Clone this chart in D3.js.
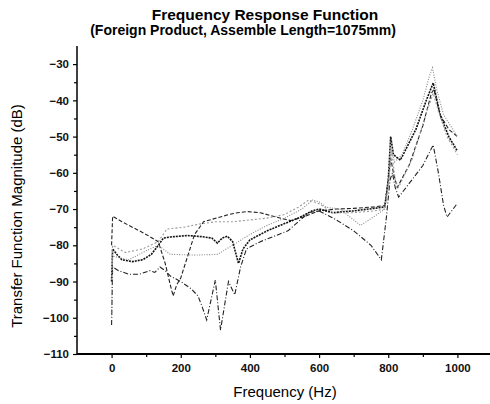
<!DOCTYPE html>
<html>
<head>
<meta charset="utf-8">
<script src="https://cdn.jsdelivr.net/npm/d3@7"></script>
<style>
  body { margin: 0; background: #fff; }
  svg { display: block; font-family: "Liberation Sans", Arial, sans-serif; }
</style>
</head>
<body>
<div id="chart"></div>
<script>
// values: [frequency Hz, magnitude dB]
const curveB = [[0,-80],[3,-72],[30,-73.5],[60,-75],[100,-77],[135,-79],[155,-85],[170,-91],[178,-94],[188,-91],
  [200,-89],[220,-83],[240,-77],[266,-73.5],[306,-72.4],[340,-71.5],[364,-71],[394,-70.7],[430,-71],[460,-71.8],
  [518,-73.2],[560,-72],[600,-70.5],[650,-70],[700,-69.8],[760,-69.4],[790,-69],[800,-62],[807,-56],[815,-60],
  [826,-64],[860,-58],[900,-47],[925,-38],[932,-37],[950,-44],[975,-48],[1000,-50]];

const curveC = [[0,-90],[3,-81],[15,-82.5],[30,-84],[60,-84.5],[90,-84],[115,-82.5],[135,-80],[150,-78],[170,-77.7],
  [220,-77.3],[260,-77.6],[290,-78],[306,-79.4],[320,-78],[335,-77.5],[350,-79],[367,-85],[380,-81],[400,-78.5],
  [450,-76],[500,-74],[540,-72.5],[580,-70.5],[600,-70],[640,-71],[700,-70.5],[760,-69.8],[790,-69.4],[800,-62],
  [807,-50],[815,-55],[835,-56.5],[880,-48],[910,-40],[930,-35.2],[950,-44],[975,-50],[1000,-54]];

const curveD = [[0,-102],[3,-86],[20,-87],[50,-88],[80,-88],[110,-87],[125,-87.5],[140,-86],[155,-87],[170,-88.5],
  [200,-90],[230,-92],[250,-94],[262,-97],[275,-100.6],[300,-89.6],[315,-103.4],[338,-90],[356,-93.7],[373,-86],
  [390,-81],[430,-79],[470,-77.5],[510,-76],[540,-73.5],[570,-71],[600,-70.5],[650,-73],[700,-76],[750,-80],
  [780,-84],[795,-72],[805,-62],[812,-60],[820,-64],[830,-66.7],[860,-63],[900,-58],[930,-52.3],[945,-60],
  [960,-69],[970,-72.2],[1000,-68.4]];

const curveE = [[0,-100],[3,-83],[50,-84],[100,-81.5],[135,-80],[170,-82.5],[240,-82.7],[306,-82.5],[350,-80],
  [400,-77],[450,-74.5],[500,-72.5],[550,-70],[581,-67.5],[600,-68],[620,-69.5],[660,-70],[720,-74.5],[760,-72],
  [790,-70],[800,-63],[808,-53],[818,-57],[840,-55],[870,-48],[900,-40],[920,-33],[928,-31],[940,-37],
  [960,-44],[1000,-50]];

const curveF = [[0,-84],[3,-80],[40,-82],[90,-81],[135,-79],[160,-75.5],[210,-75],[250,-74.2],[300,-73.5],
  [350,-73.5],[400,-73],[450,-72.5],[500,-71.5],[540,-69.5],[570,-67.5],[600,-68.5],[640,-71],[700,-71],
  [760,-70.5],[790,-70],[802,-62],[810,-54],[820,-62],[830,-64],[870,-56],[905,-45],[930,-38],[945,-43],
  [970,-50],[1000,-55]];

const xTicks = [0, 200, 400, 600, 800, 1000];
const yTicks = [-110, -100, -90, -80, -70, -60, -50, -40, -30];

const W = 490, H = 404;
const svg = d3.select("#chart").append("svg").attr("width", W).attr("height", H);

const x = d3.scaleLinear().domain([-100, 1100]).range([77, 492]);
const y = d3.scaleLinear().domain([-110, -25]).range([354, 46]);

// axes
const xAxis = d3.axisBottom(x).tickValues(xTicks).tickSize(4).tickPadding(6).tickFormat(d3.format("d"));
const yAxis = d3.axisLeft(y).tickValues(yTicks).tickSize(4).tickPadding(4);

const gx = svg.append("g").attr("transform", "translate(0,354)").call(xAxis);
const gy = svg.append("g").attr("transform", "translate(77,0)").call(yAxis);

// minor ticks
svg.append("g").attr("transform", "translate(0,354)")
  .call(d3.axisBottom(x).tickValues(d3.range(100, 1100, 200)).tickSize(3).tickFormat(""))
  .select(".domain").remove();
svg.append("g").attr("transform", "translate(77,0)")
  .call(d3.axisLeft(y).tickValues(d3.range(-105, -25, 10)).tickSize(3).tickFormat(""))
  .select(".domain").remove();

gx.select(".domain").attr("stroke-width", 2).attr("d", "M77,0H490");
gy.select(".domain").attr("stroke-width", 1.5).attr("d", "M0,354V46");
svg.selectAll(".tick line").attr("stroke-width", 1.2);
svg.selectAll(".tick text").attr("font-size", 11.5).attr("font-weight", "bold").attr("fill", "#111");

// lines
const line = d3.line().x(d => x(d[0])).y(d => y(d[1]));
const series = [
  { data: curveB, color: "#222", width: 1.1, dash: "4,2" },
  { data: curveC, color: "#111", width: 1.6, dash: "2,1" },
  { data: curveD, color: "#222", width: 1.1, dash: "5,2,1,2" },
  { data: curveE, color: "#888", width: 1.1, dash: "1,1.5" },
  { data: curveF, color: "#999", width: 1.1, dash: "2,2" }
];
svg.selectAll(".curve").data(series).enter().append("path")
  .attr("class", "curve")
  .attr("fill", "none")
  .attr("stroke", d => d.color)
  .attr("stroke-width", d => d.width)
  .attr("stroke-dasharray", d => d.dash)
  .attr("d", d => line(d.data));

// titles
svg.append("text").attr("x", 265).attr("y", 20).attr("text-anchor", "middle")
  .attr("font-size", 15.5).attr("font-weight", "bold").text("Frequency Response Function");
svg.append("text").attr("x", 243).attr("y", 35).attr("text-anchor", "middle")
  .attr("font-size", 14).attr("font-weight", "bold").text("(Foreign Product, Assemble Length=1075mm)");

svg.append("text").attr("x", 285).attr("y", 397).attr("text-anchor", "middle")
  .attr("font-size", 15).text("Frequency (Hz)");
svg.append("text").attr("transform", "translate(22,216) rotate(-90)").attr("text-anchor", "middle")
  .attr("font-size", 15).text("Transfer Function Magnitude (dB)");
</script>
</body>
</html>
